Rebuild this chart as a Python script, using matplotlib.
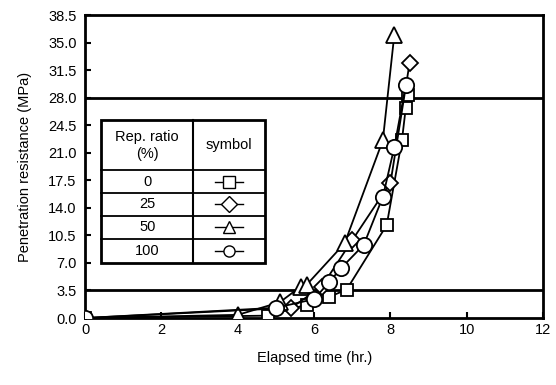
import matplotlib.pyplot as plt
from matplotlib.lines import Line2D

plt.rcParams['font.family'] = ['Liberation Sans', 'DejaVu Sans']

# data
x_0 = [0, 4.8, 5.8, 6.4, 6.85, 7.9, 8.3, 8.4, 8.45]
y_0 = [0, 0.3, 1.7, 2.7, 3.6, 11.8, 22.6, 26.7, 28.3]

x_25 = [0, 5.4, 6.2, 7.0, 8.0, 8.5]
y_25 = [0, 1.3, 4.0, 9.9, 17.2, 32.4]

x_50 = [0, 4.0, 5.1, 5.65, 5.8, 6.8, 7.8, 8.1]
y_50 = [0, 0.4, 2.0, 4.0, 4.2, 9.5, 22.6, 36.0]

x_100 = [0, 5.0, 6.0, 6.4, 6.7, 7.3, 7.8, 8.1, 8.4]
y_100 = [0, 1.3, 2.4, 4.6, 6.3, 9.3, 15.4, 21.7, 29.6]

ratios = ['0', '25', '50', '100']
markers = ['s', 'D', '^', 'o']
msizes = [9, 8, 11, 11]
limit_lines = [28.0, 3.5]

fig = plt.figure(figsize=(5.56, 3.85), dpi=100)
ax = fig.add_axes([0.153, 0.174, 0.824, 0.787])

ax.axhline(limit_lines[0], color='black', lw=2, zorder=1)
ax.axhline(limit_lines[1], color='black', lw=2, zorder=1)

series = [(x_0, y_0), (x_25, y_25), (x_50, y_50), (x_100, y_100)]
for (xs, ys), m, ms in zip(series, markers, msizes):
    ax.plot(xs, ys, color='black', lw=1.3, marker=m, ms=ms,
            mfc='white', mec='black', mew=1.3, zorder=3)

ax.set_xlim(0, 12)
ax.set_ylim(0, 38.5)
ax.set_xticks(range(0, 13, 2))
yt = [i * 3.5 for i in range(12)]
ax.set_yticks(yt)
ax.set_yticklabels(['%.1f' % v for v in yt])
ax.tick_params(direction='in', labelsize=10.5, width=1.5, length=4)
ax.tick_params(axis='y', pad=6)
for s in ax.spines.values():
    s.set_linewidth(2)
ax.set_xlabel('Elapsed time (hr.)', fontsize=10.5, labelpad=10)
ax.set_ylabel('Penetration resistance (MPa)', fontsize=10.5, labelpad=12)

# legend table
tx = [0.035, 0.236, 0.393]
ty = [0.653, 0.488, 0.413, 0.337, 0.261, 0.182]
tr = ax.transAxes
kw = dict(color='black', transform=tr, zorder=5)
ax.add_patch(plt.Rectangle((tx[0], ty[-1]), tx[2] - tx[0], ty[0] - ty[-1],
                           fc='white', ec='black', lw=2, transform=tr, zorder=4))
ax.add_line(Line2D([tx[1], tx[1]], [ty[0], ty[-1]], lw=1.5, **kw))
for yy in ty[1:-1]:
    ax.add_line(Line2D([tx[0], tx[2]], [yy, yy], lw=1.3, **kw))
cx0 = (tx[0] + tx[1]) / 2
cx1 = (tx[1] + tx[2]) / 2
ax.text(cx0, (ty[0] + ty[1]) / 2, 'Rep. ratio\n(%)', ha='center', va='center',
        fontsize=10.5, transform=tr, zorder=6, linespacing=1.3)
ax.text(cx1, (ty[0] + ty[1]) / 2, 'symbol', ha='center', va='center',
        fontsize=10.5, transform=tr, zorder=6)
for i, (r, m) in enumerate(zip(ratios, markers)):
    yc = (ty[i + 1] + ty[i + 2]) / 2
    ax.text(cx0, yc, r, ha='center', va='center', fontsize=10.5,
            transform=tr, zorder=6)
    ax.add_line(Line2D([cx1 - 0.03, cx1 + 0.03], [yc, yc], lw=1, **kw))
    ax.plot([cx1], [yc], marker=m, ms=8, mfc='white', mec='black', mew=1,
            transform=tr, zorder=7, clip_on=False)

fig.savefig('out.png', dpi=100)
